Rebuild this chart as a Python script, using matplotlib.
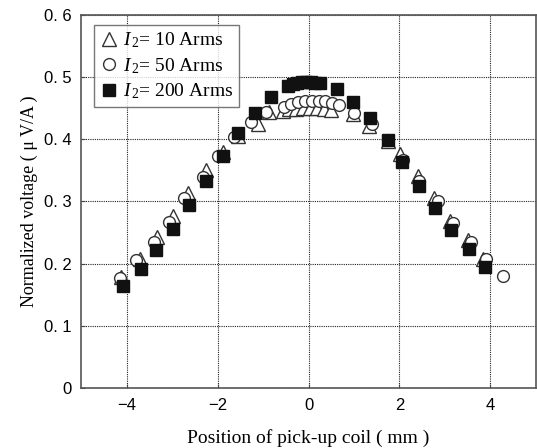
import numpy as np
import matplotlib
matplotlib.use("Agg")
import matplotlib.pyplot as plt

# I2 = 10 Arms (triangles)
x_10 = [-4.12, -3.71, -3.33, -2.98, -2.64, -2.25, -1.88, -1.55, -1.11, -0.86,
        -0.57, -0.42, -0.27, -0.12, 0.03, 0.18, 0.33, 0.50,
        0.97, 1.34, 1.74, 2.01, 2.40, 2.77, 3.10, 3.50, 3.83]
y_10 = [0.179, 0.207, 0.242, 0.277, 0.313, 0.350, 0.380, 0.405, 0.425, 0.444,
        0.446, 0.448, 0.449, 0.450, 0.450, 0.450, 0.449, 0.447,
        0.441, 0.421, 0.397, 0.376, 0.341, 0.305, 0.269, 0.238, 0.207]

# I2 = 50 Arms (circles)
x_50 = [-4.15, -3.79, -3.40, -3.07, -2.73, -2.32, -1.99, -1.63, -1.26, -0.93,
        -0.53, -0.38, -0.23, -0.08, 0.07, 0.22, 0.37, 0.52, 0.66,
        1.01, 1.39, 1.74, 2.07, 2.42, 2.84, 3.17, 3.58, 3.91, 4.27]
y_50 = [0.177, 0.206, 0.235, 0.267, 0.305, 0.339, 0.373, 0.404, 0.428, 0.444,
        0.452, 0.456, 0.459, 0.461, 0.462, 0.462, 0.461, 0.458, 0.455,
        0.442, 0.424, 0.398, 0.367, 0.333, 0.300, 0.266, 0.235, 0.207, 0.180]

# I2 = 200 Arms (squares)
x_200 = [-4.07, -3.69, -3.35, -2.98, -2.63, -2.25, -1.87, -1.55, -1.17, -0.82,
         -0.45, -0.35, -0.25, -0.15, -0.05, 0.05, 0.15, 0.25,
         0.62, 0.97, 1.36, 1.74, 2.06, 2.44, 2.79, 3.14, 3.52, 3.87]
y_200 = [0.164, 0.191, 0.222, 0.255, 0.294, 0.333, 0.373, 0.410, 0.442, 0.468,
         0.486, 0.488, 0.490, 0.492, 0.492, 0.492, 0.491, 0.490,
         0.481, 0.460, 0.434, 0.398, 0.364, 0.325, 0.289, 0.254, 0.223, 0.194]

xticks = [-4, -2, 0, 2, 4]
yticks = [0, 0.1, 0.2, 0.3, 0.4, 0.5, 0.6]
ytick_labels = ["0", "0. 1", "0. 2", "0. 3", "0. 4", "0. 5", "0. 6"]

plt.rcParams['mathtext.fontset'] = 'custom'
plt.rcParams['mathtext.rm'] = 'Liberation Serif'
plt.rcParams['mathtext.it'] = 'Liberation Serif:italic'

fig = plt.figure(figsize=(5.37, 4.48), dpi=100)
ax = fig.add_axes([0.151, 0.134, 0.847, 0.833])

ax.plot(x_10, y_10, linestyle='none', marker='^', markersize=10,
        markerfacecolor='white', markeredgecolor='#333333', markeredgewidth=1.0,
        label=r'$I_{\,2}$= 10 Arms')
ax.plot(x_50, y_50, linestyle='none', marker='o', markersize=8.5,
        markerfacecolor='white', markeredgecolor='#333333', markeredgewidth=1.0,
        label=r'$I_{\,2}$= 50 Arms')
ax.plot(x_200, y_200, linestyle='none', marker='s', markersize=8.5,
        markerfacecolor='#111111', markeredgecolor='#111111',
        label=r'$I_{\,2}$= 200 Arms')

ax.set_xlim(-5, 5)
ax.set_ylim(0, 0.6)
ax.set_xticks(xticks)
ax.set_xticklabels([str(t) if t >= 0 else '\u2212' + str(-t) for t in xticks],
                   family='Liberation Sans', fontsize=12)
ax.set_yticks(yticks)
ax.set_yticklabels(ytick_labels, family='Liberation Sans', fontsize=12)
ax.tick_params(direction='in', length=3, color='#444444', pad=7)

ax.grid(True, color='#222222', linestyle=(0, (1, 1)), linewidth=0.8)
for s in ax.spines.values():
    s.set_color('#555555')
    s.set_linewidth(1.2)

ax.set_xlabel('Position of pick-up coil ( mm )', family='Liberation Serif',
              fontsize=14, labelpad=12)
ax.set_ylabel('Normalized voltage ( \u03bc V/A )', family='Liberation Serif',
              fontsize=13, labelpad=4)

leg = ax.legend(loc='upper left', bbox_to_anchor=(0.028, 0.973),
                prop={'family': 'Liberation Serif', 'size': 14},
                frameon=True, fancybox=False, edgecolor='#555555',
                handletextpad=0.2, handlelength=1.0, borderpad=0.3,
                labelspacing=0.3, borderaxespad=0)
leg.get_frame().set_linewidth(1.0)

fig.savefig('out.png', dpi=100)
